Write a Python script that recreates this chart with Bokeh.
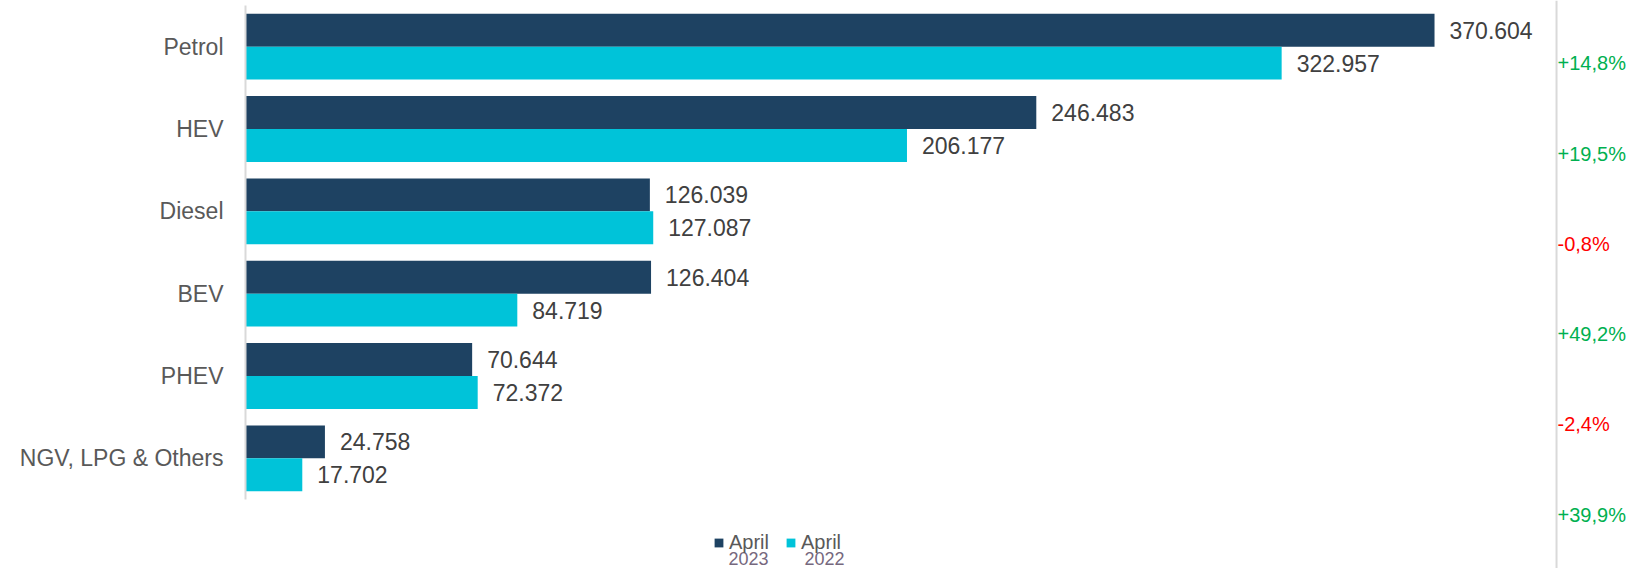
from bokeh.plotting import figure
from bokeh.models import (Range1d, FixedTicker, ColumnDataSource, Span, Legend,
                          LegendItem, Label)
from bokeh.embed import file_html
from bokeh.resources import INLINE
from bokeh.core.properties import value

# ---------------- data ----------------
categories = ["Petrol", "HEV", "Diesel", "BEV", "PHEV", "NGV, LPG & Others"]
april_2023 = [370604, 246483, 126039, 126404, 70644, 24758]
april_2022 = [322957, 206177, 127087, 84719, 72372, 17702]
legend_names = ["April", "April"]
legend_years = ["2023", "2022"]

# ---------------- style / layout ----------------
DARK = "#1e4262"
CYAN = "#00c3d9"
GRID = "#d9d9d9"
FONT = "Liberation Sans"
POS = "#00b050"
NEG = "#ff0000"
BAR_H = 0.4
X_MAX = 432000
X_MIN = -1558
RIGHT_LINE = 408630
PCT_STEP = 1.096
PCT_START = -0.203


def fmt(v):
    return f"{v:,}".replace(",", ".")


def pct(a, b):
    ch = (a / b - 1) * 100
    return f"{ch:+.1f}".replace(".", ",") + "%", (POS if ch >= 0 else NEG)


n = len(categories)
ypos = [-i for i in range(n)]
pct_txt = [pct(a, b)[0] for a, b in zip(april_2023, april_2022)]
pct_col = [pct(a, b)[1] for a, b in zip(april_2023, april_2022)]

src = ColumnDataSource(dict(
    y23=[y + BAR_H / 2 for y in ypos],
    y22=[y - BAR_H / 2 for y in ypos],
    v23=april_2023,
    v22=april_2022,
    l23=[fmt(v) for v in april_2023],
    l22=[fmt(v) for v in april_2022],
    py=[PCT_START - i * PCT_STEP for i in range(n)],
    px=[RIGHT_LINE] * n,
    pt=pct_txt,
    pc=pct_col,
))

p = figure(width=1631, height=568,
           x_range=Range1d(X_MIN, X_MAX), y_range=Range1d(-6.338, 0.5607),
           x_axis_location=None, output_backend="svg", toolbar_location=None,
           min_border_left=240, min_border_right=0, min_border_top=0,
           min_border_bottom=0)
p.outline_line_color = None
p.grid.visible = False
p.background_fill_color = "white"

r23 = p.hbar(y="y23", left=0, right="v23", height=BAR_H, fill_color=DARK,
             line_color=None, source=src)
r22 = p.hbar(y="y22", left=0, right="v22", height=BAR_H, fill_color=CYAN,
             line_color=None, source=src)

for vcol, ycol, lcol in (("v23", "y23", "l23"), ("v22", "y22", "l22")):
    p.text(x=vcol, y=ycol, text=lcol, x_offset=15, text_align="left",
           text_baseline="middle", text_font=value(FONT),
           text_font_size="23px", text_color="#404040", source=src)

# axis line
p.segment(x0=[0], y0=[0.5], x1=[0], y1=[-(n - 1) - 0.5],
          line_color=GRID, line_width=2)

p.add_layout(Span(location=RIGHT_LINE, dimension="height",
                  line_color=GRID, line_width=2))

p.text(x="px", y="py", text="pt", text_color="pc", x_offset=1,
       text_align="left", text_baseline="middle", text_font=value(FONT),
       text_font_size="20px", source=src)

ax = p.yaxis[0]
ax.ticker = FixedTicker(ticks=ypos)
ax.major_label_overrides = {y: c for y, c in zip(ypos, categories)}
ax.axis_line_color = None
ax.major_tick_line_color = None
ax.minor_tick_line_color = None
ax.major_tick_out = 0
ax.major_tick_in = 0
ax.major_label_standoff = 17
ax.major_label_text_font = FONT
ax.major_label_text_font_size = "23px"
ax.major_label_text_color = "#595959"

legend = Legend(items=[LegendItem(label=legend_names[0], renderers=[r23]),
                       LegendItem(label=legend_names[1], renderers=[r22])],
                orientation="horizontal", location=(473, 14),
                glyph_width=11, glyph_height=11, label_standoff=5, spacing=16,
                padding=0, margin=0, border_line_color=None,
                background_fill_alpha=0, label_text_font=FONT,
                label_text_font_size="20px", label_text_color="#595959")
p.add_layout(legend)

for xs, yr in zip((488, 564), legend_years):
    p.add_layout(Label(x=xs, y=10, x_units="screen", y_units="screen",
                       text=yr, text_baseline="middle", text_align="left",
                       text_font=FONT, text_font_size="18px",
                       text_color="#76687e"))

open("out.html", "w").write(file_html(p, INLINE))
